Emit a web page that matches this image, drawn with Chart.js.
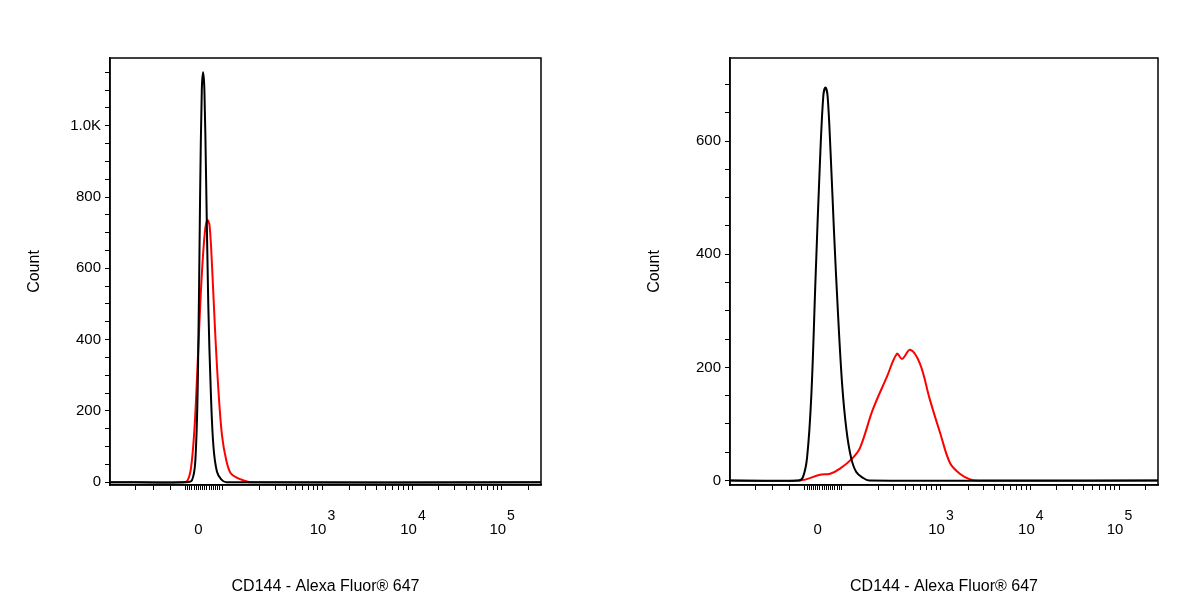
<!DOCTYPE html><html><head><script src="https://cdn.jsdelivr.net/npm/chart.js@4"></script>
<style>body{margin:0;background:#fff}#w{display:flex;width:1200px;height:600px}.c{position:relative;width:600px;height:600px}canvas{display:block;width:600px;height:600px}</style></head><body><div id="w"><div class="c"><canvas id="a" width="600" height="600"></canvas></div><div class="c"><canvas id="b" width="600" height="600"></canvas></div></div>
<script>
// x values are in display units (biexponential axis, 0..1000)
const xMajorPos=[205,492,702,909];
const xMajorLabels=[['0',''],['10','3'],['10','4'],['10','5']];
const leftBlackX=[0,175,190,198,204,209,213,216,219,223,228,234,240,248,258,270,1000];
const leftBlackY=[0,0,5,60,300,800,1100,1150,1100,850,500,250,100,30,8,0,0];
const leftRedX=[0,170,180,188,196,204,212,220,226,231,237,244,252,260,270,280,295,310,325,1000];
const leftRedY=[0,0,5,40,150,350,560,700,735,720,600,420,250,130,60,25,12,5,0,0];
const rightBlackX=[0,160,170,180,190,200,210,218,223,228,235,243,252,262,272,283,295,310,325,1000];
const rightBlackY=[0,0,5,40,150,360,560,680,695,680,580,440,300,170,90,40,15,5,0,0];
const rightRedX=[0,164,210,234,257,287,304,334,367,390,402,421,444,467,491,514,537,561,580,1000];
const rightRedY=[0,0,10,12,21,40,58,126,184,224,215,231,206,143,84,31,12,2,0,0];
const leftYMax=1190, rightYMax=747;

const xTicks=(()=>{const t=[];[60,100,140,...xMajorPos].forEach(v=>t.push(v));
 const dec=208.5;[1,2,3].forEach(i=>{const base=xMajorPos[i]-dec;for(let k=2;k<10;k++)t.push(base+dec*Math.log10(k));});
 for(let k=2;k<10;k++)t.push(xMajorPos[3]+dec*Math.log10(k));
 for(let v=175;v<=260;v+=5)t.push(v);return t.filter(v=>v<=1000).sort((a,b)=>a-b);})();

const frame={id:'frame',afterDraw(c){const a=c.chartArea,x=c.ctx;x.save();x.strokeStyle='#000';x.lineWidth=1.5;x.strokeRect(a.left,a.top,a.right-a.left,a.bottom-a.top);
 x.fillStyle='#000';x.textAlign='center';const s=c.scales.x;
 xMajorPos.forEach((p,i)=>{const px=s.getPixelForValue(p);const [b,e]=xMajorLabels[i];x.font='15px "Liberation Sans"';
  if(!e){x.fillText(b,px,534);}else{const w=x.measureText(b).width;x.fillText(b,px-4,534);x.font='14px "Liberation Sans"';x.textAlign='left';x.fillText(e,px-4+w/2+1,520);x.textAlign='center';}});
 x.restore();}};

function make(id,series,ymax,padL,padR,fmt){
 return new Chart(document.getElementById(id),{type:'line',
 data:{datasets:series.map(([xs,ys,col])=>({data:xs.map((v,i)=>({x:v,y:ys[i]})),borderColor:col,borderWidth:2,pointRadius:0,tension:0.35,fill:false}))},
 options:{responsive:false,animation:false,devicePixelRatio:1,plugins:{legend:{display:false},tooltip:{enabled:false}},
 layout:{padding:{top:58,right:padR,left:0,bottom:0}},
 scales:{x:{type:'linear',min:0,max:1000,afterBuildTicks(s){s.ticks=xTicks.map(v=>({value:v}));},
   afterFit(s){s.height=115;},
   ticks:{callback:()=>'',autoSkip:false},grid:{drawOnChartArea:false,tickLength:5,color:'#000',tickWidth:1},border:{color:'#000',width:1.5},
   title:{display:true,text:'CD144 - Alexa Fluor® 647',font:{size:16,family:'Liberation Sans'},color:'#000',padding:{top:28}}},
  y:{min:-8,max:ymax,afterFit(s){s.width=padL;},afterBuildTicks(s){const t=[];for(let v=0;v<=ymax;v+=50)t.push({value:v});s.ticks=t;},
   ticks:{autoSkip:false,callback:fmt,color:'#000',font:{size:15,family:'Liberation Sans'},padding:4},
   grid:{drawOnChartArea:false,tickLength:5,color:'#000'},border:{color:'#000',width:1.5},
   title:{display:true,text:'Count',font:{size:16,family:'Liberation Sans'},color:'#000',padding:{top:padL-85,bottom:0}}}}},
 plugins:[frame]});}
make('a',[[leftBlackX,leftBlackY,'#000'],[leftRedX,leftRedY,'#ff0000']],leftYMax,110,59,v=>v%200?'':(v>=1000?(v/1000).toFixed(1)+'K':v));
make('b',[[rightBlackX,rightBlackY,'#000'],[rightRedX,rightRedY,'#ff0000']],rightYMax,130,42,v=>v%200?'':v);
</script></body></html>
